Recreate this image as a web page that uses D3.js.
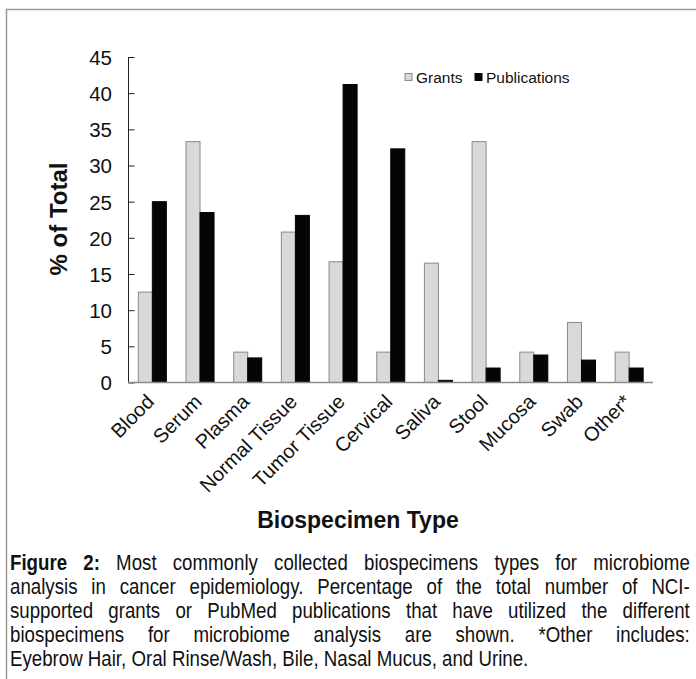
<!DOCTYPE html>
<html>
<head>
<meta charset="utf-8">
<script src="https://cdn.jsdelivr.net/npm/d3@7"></script>
<style>
  body { margin: 0; background: #fff; }
  #wrap { position: relative; width: 696px; height: 679px; overflow: hidden; }
  svg { position: absolute; left: 0; top: 0; }
  #caption {
    position: absolute; left: 10px; top: 551px; width: 819px;
    transform: scaleX(0.83); transform-origin: 0 0;
    font-family: "Liberation Sans", Arial, sans-serif;
    font-size: 22.5px; line-height: 24px; color: #111;
  }
  #caption .ln { text-align: justify; text-align-last: justify; white-space: nowrap; }
  #caption .ln.last { text-align-last: left; }
</style>
</head>
<body>
<div id="wrap">
  <div id="chart"></div>
  <div id="caption"></div>
</div>
<script>
const categories = ["Blood", "Serum", "Plasma", "Normal Tissue", "Tumor Tissue", "Cervical",
  "Saliva", "Stool", "Mucosa", "Swab", "Other*"];
const grants = [12.5, 33.3, 4.2, 20.8, 16.7, 4.2, 16.5, 33.3, 4.2, 8.3, 4.2];
const publications = [25.0, 23.5, 3.4, 23.1, 41.2, 32.3, 0.3, 2.0, 3.8, 3.1, 2.0];
const yTicks = [0, 5, 10, 15, 20, 25, 30, 35, 40, 45];
const seriesNames = ["Grants", "Publications"];
const captionLines = [
  "<b>Figure 2:</b> Most commonly collected biospecimens types for microbiome",
  "analysis in cancer epidemiology. Percentage of the total number of NCI-",
  "supported grants or PubMed publications that have utilized the different",
  "biospecimens for microbiome analysis are shown. *Other includes:",
  "Eyebrow Hair, Oral Rinse/Wash, Bile, Nasal Mucus, and Urine."
];

const width = 696, height = 679;
const font = '"Liberation Sans", Arial, sans-serif';

const svg = d3.select("#chart").append("svg")
  .attr("width", width)
  .attr("height", height);

// frame (top and left edges)
svg.append("line").attr("x1", 6).attr("x2", width).attr("y1", 9.5).attr("y2", 9.5)
  .attr("stroke", "#9a9a9a").attr("stroke-width", 1.5);
svg.append("line").attr("x1", 6.5).attr("x2", 6.5).attr("y1", 9).attr("y2", height)
  .attr("stroke", "#9a9a9a").attr("stroke-width", 1.5);

const data = categories.map((c, i) => ({ name: c, values: [grants[i], publications[i]] }));

const x = d3.scaleBand()
  .domain(categories)
  .range([128.5, 653])
  .paddingInner(0.412)
  .paddingOuter(0.206);

const xs = d3.scaleBand()
  .domain(seriesNames)
  .range([0, x.bandwidth()]);

const y = d3.scaleLinear()
  .domain([0, 45])
  .range([382.5, 57]);

const fills = ["#d9d9d9", "#050505"];
const strokes = ["#8a8a8a", "#050505"];

const groups = svg.selectAll(".grp")
  .data(data)
  .enter().append("g")
  .attr("class", "grp")
  .attr("transform", d => "translate(" + x(d.name) + ",0)");

groups.selectAll("rect")
  .data(d => d.values.map((v, i) => ({ key: seriesNames[i], value: v, i: i })))
  .enter().append("rect")
  .attr("x", d => xs(d.key))
  .attr("width", xs.bandwidth())
  .attr("y", d => y(d.value))
  .attr("height", d => y(0) - y(d.value))
  .attr("fill", d => fills[d.i])
  .attr("stroke", d => strokes[d.i])
  .attr("stroke-width", 1);

// y axis (ticks pointing inward)
const yAxis = svg.append("g")
  .attr("transform", "translate(128.5,0)")
  .call(d3.axisRight(y).tickValues(yTicks).tickSize(6).tickFormat(d3.format("d")));
yAxis.select(".domain").attr("stroke", "#222").attr("d", "M0," + y(45) + "V" + y(0));
yAxis.selectAll(".tick line").attr("stroke", "#222");
yAxis.selectAll(".tick text")
  .attr("x", -16.5)
  .attr("text-anchor", "end")
  .attr("dy", "0.36em")
  .style("font-family", font)
  .style("font-size", "20.5px")
  .attr("fill", "#111");

// x axis baseline
svg.append("line")
  .attr("x1", 128).attr("x2", 653)
  .attr("y1", y(0)).attr("y2", y(0))
  .attr("stroke", "#8a8a8a").attr("stroke-width", 1.5);

// rotated category labels
svg.selectAll(".xlab")
  .data(categories)
  .enter().append("text")
  .attr("class", "xlab")
  .attr("text-anchor", "end")
  .attr("transform", d => "translate(" + (x(d) + x.bandwidth() / 2 + 3) + ",403) rotate(-45)")
  .style("font-family", font)
  .style("font-size", "20px")
  .attr("fill", "#111")
  .text(d => d);

// axis titles
svg.append("text")
  .attr("transform", "translate(67,219) rotate(-90)")
  .attr("text-anchor", "middle")
  .style("font-family", font)
  .style("font-size", "24px")
  .style("font-weight", "bold")
  .attr("fill", "#111")
  .text("% of Total");

svg.append("text")
  .attr("x", 358).attr("y", 528)
  .attr("text-anchor", "middle")
  .style("font-family", font)
  .style("font-size", "23px")
  .style("font-weight", "bold")
  .attr("fill", "#111")
  .text("Biospecimen Type");

// legend
const legendX = [405, 475];
const legend = svg.selectAll(".leg")
  .data(seriesNames)
  .enter().append("g")
  .attr("class", "leg")
  .attr("transform", (d, i) => "translate(" + legendX[i] + ",73.5)");
legend.append("rect")
  .attr("width", 7).attr("height", 7)
  .attr("fill", (d, i) => fills[i])
  .attr("stroke", (d, i) => strokes[i]);
legend.append("text")
  .attr("x", 11).attr("y", 9)
  .style("font-family", font)
  .style("font-size", "15.5px")
  .attr("fill", "#111")
  .text(d => d);

// caption
d3.select("#caption").selectAll(".ln")
  .data(captionLines)
  .enter().append("div")
  .attr("class", (d, i) => i === captionLines.length - 1 ? "ln last" : "ln")
  .html(d => d);
</script>
</body>
</html>
